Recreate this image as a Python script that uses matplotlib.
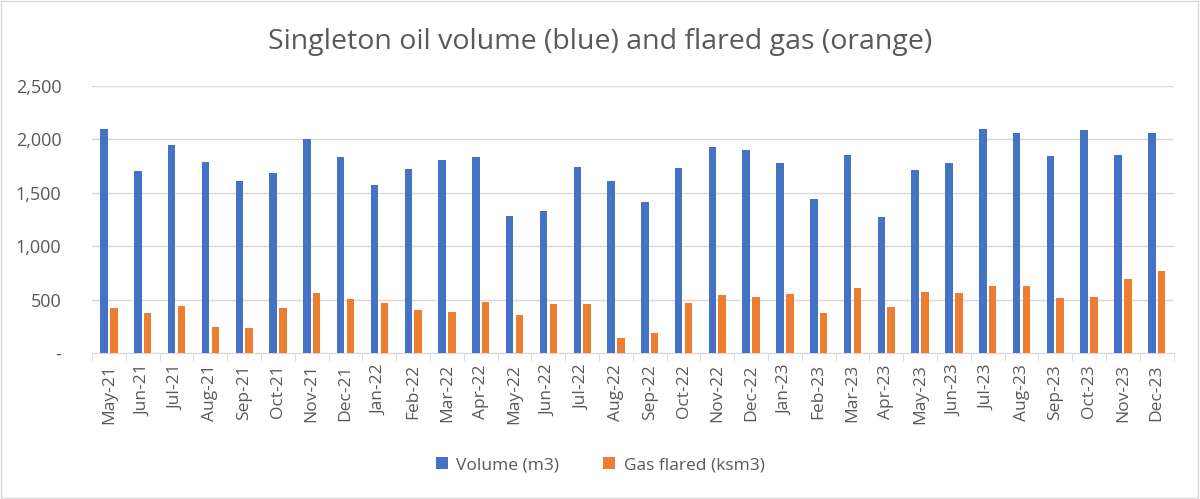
import numpy as np
import matplotlib.pyplot as plt
from matplotlib.patches import Rectangle

months = ["May-21", "Jun-21", "Jul-21", "Aug-21", "Sep-21", "Oct-21", "Nov-21", "Dec-21",
          "Jan-22", "Feb-22", "Mar-22", "Apr-22", "May-22", "Jun-22", "Jul-22", "Aug-22",
          "Sep-22", "Oct-22", "Nov-22", "Dec-22", "Jan-23", "Feb-23", "Mar-23", "Apr-23",
          "May-23", "Jun-23", "Jul-23", "Aug-23", "Sep-23", "Oct-23", "Nov-23", "Dec-23"]
volume = [2100, 1701, 1951, 1785, 1607, 1682, 2004, 1838,
          1576, 1720, 1810, 1838, 1283, 1333, 1738, 1607,
          1414, 1735, 1926, 1904, 1776, 1442, 1857, 1273,
          1717, 1776, 2100, 2060, 1848, 2091, 1851, 2060]
gas_flared = [424, 371, 437, 240, 231, 418, 559, 502,
              465, 400, 384, 478, 353, 456, 456, 137,
              187, 471, 540, 527, 549, 378, 612, 431,
              571, 559, 624, 624, 515, 521, 696, 771]

text_color = "#595959"
plt.rcParams['font.family'] = ['Open Sans', 'DejaVu Sans']

fig = plt.figure(figsize=(12, 4.99), dpi=100)
ax = fig.add_axes([0.0767, 0.2926, 0.9013, 0.5351])

x = np.arange(len(months))
w = 0.22
ax.bar(x - 0.145, volume, w, color="#4472C4", label="Volume (m3)", zorder=3)
ax.bar(x + 0.145, gas_flared, w, color="#ED7D31", label="Gas flared (ksm3)", zorder=3)

ax.set_xlim(-0.5, len(months) - 0.5)
ax.set_ylim(0, 2500)
ax.set_yticks([0, 500, 1000, 1500, 2000, 2500])
ax.set_yticklabels(["-", "500", "1,000", "1,500", "2,000", "2,500"])
ax.grid(axis="y", color="#D9D9D9", linewidth=1, zorder=0)

ax.set_xticks(x)
ax.set_xticklabels(months, rotation=90)
ax.set_xticks(np.arange(-0.5, len(months)), minor=True)
ax.tick_params(axis="x", which="major", length=0, pad=8, labelsize=12.5, labelcolor=text_color)
ax.tick_params(axis="x", which="minor", length=6, color="#D9D9D9")
ax.tick_params(axis="y", length=0, pad=22, labelsize=13, labelcolor=text_color)

for s in ["top", "right", "left"]:
    ax.spines[s].set_visible(False)
ax.spines["bottom"].set_color("#D9D9D9")

fig.text(0.5, 0.915, "Singleton oil volume (blue) and flared gas (orange)",
         ha="center", va="center", fontsize=20.5, color=text_color)

fig.legend(loc="center", bbox_to_anchor=(0.5, 0.068), ncol=2, frameon=False,
           fontsize=12.5, labelcolor=text_color, handlelength=0.7, handleheight=0.7,
           columnspacing=2.5, handletextpad=0.5)

fig.patches.append(Rectangle((0.001, 0.002), 0.997, 0.995, transform=fig.transFigure,
                             fill=False, edgecolor="#D9D9D9", linewidth=1))

fig.savefig("out.png", dpi=100)
